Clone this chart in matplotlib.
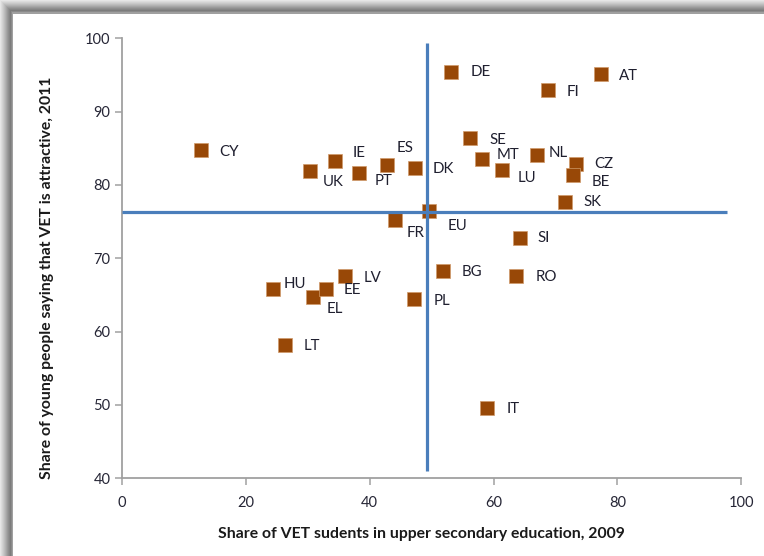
import matplotlib.pyplot as plt
from matplotlib.patches import Rectangle

# Data
countries = ["CY", "UK", "IE", "PT", "ES", "DK", "EU", "FR", "DE", "SE", "MT", "LU", "NL",
             "CZ", "BE", "FI", "AT", "SK", "SI", "BG", "RO", "PL", "IT", "HU", "EL", "EE",
             "LV", "LT"]
vet_share = [12.7, 30.4, 34.3, 38.3, 42.8, 47.3, 49.6, 44.1, 53.2, 56.2, 58.1, 61.3, 67.0,
             73.3, 72.8, 68.8, 77.3, 71.6, 64.2, 51.8, 63.7, 47.1, 59.0, 24.3, 30.9, 32.9,
             36.0, 26.3]
attractive = [84.8, 81.9, 83.3, 81.6, 82.7, 82.3, 76.5, 75.2, 95.4, 86.4, 83.5, 82.1, 84.1,
              82.8, 81.4, 92.9, 95.1, 77.7, 72.7, 68.3, 67.6, 64.4, 49.6, 65.8, 64.7, 65.8,
              67.6, 58.2]

# EU average cross lines
eu_x = 49.3
eu_y = 76.3
vline_span = [41.0, 99.3]
hline_span = [0.0, 97.7]

# label offsets in pixels (dx right, dy down)
offsets = {
    "CY": (18, 2), "UK": (12, 11), "IE": (18, -8), "PT": (15, 8), "ES": (10, -17),
    "DK": (18, 1), "EU": (18, 15), "FR": (11, 13), "DE": (19, 0), "SE": (19, 2),
    "MT": (15, -4), "LU": (16, 8), "NL": (12, -2), "CZ": (18, 0), "BE": (19, 7),
    "FI": (19, 2), "AT": (18, 2), "SK": (18, 0), "SI": (18, 0), "BG": (19, 1),
    "RO": (19, 1), "PL": (20, 2), "IT": (19, 1), "HU": (11, -5), "EL": (13, 12),
    "EE": (18, 1), "LV": (19, 2), "LT": (19, 1),
}

plt.rcParams['font.family'] = ['Lato', 'DejaVu Sans']

fig = plt.figure(figsize=(7.64, 5.56), dpi=100)
W, H = 764, 556

# gray shadow frame on the top and left edges
shades = ['#e6e6e6', '#dcdcdc', '#d2d2d2', '#c8c8c8', '#bdbdbd', '#b2b2b2', '#a6a6a6',
          '#9a9a9a', '#8f8f8f', '#858585', '#7c7c7c', '#8a8a8a', '#a0a0a0']
for i, c in enumerate(shades):
    fig.patches.append(Rectangle((i / W, 0), 1, 1 - i / H, transform=fig.transFigure,
                                 facecolor=c, edgecolor='none', zorder=-10))
fig.patches.append(Rectangle((13 / W, 0), 1, 1 - 14 / H, transform=fig.transFigure,
                             facecolor='white', edgecolor='none', zorder=-9))

ax = fig.add_axes([0.160, 0.140, 0.810, 0.791])
ax.set_facecolor('none')

ax.plot([eu_x, eu_x], vline_span, color='#4A7EBB', lw=2.3, zorder=3, solid_capstyle='butt')
ax.plot(hline_span, [eu_y, eu_y], color='#4A7EBB', lw=2.3, zorder=3, solid_capstyle='butt')

ax.scatter(vet_share, attractive, marker='s', s=92, facecolor='#984807',
           edgecolor='#d09a6a', linewidth=0.5, zorder=2)

for name, x, y in zip(countries, vet_share, attractive):
    dx, dy = offsets[name]
    ax.annotate(name, (x, y), xytext=(dx * 0.72, -dy * 0.72), textcoords='offset points',
                ha='left', va='center', fontsize=10.8, color='#1f1f2f')

ax.set_xlim(0, 100)
ax.set_ylim(40, 100)
ax.set_xticks(range(0, 101, 20))
ax.set_yticks(range(40, 101, 10))
for side in ['top', 'right']:
    ax.spines[side].set_visible(False)
for side in ['left', 'bottom']:
    ax.spines[side].set_color('#a0a0a0')
    ax.spines[side].set_linewidth(1.3)
ax.tick_params(direction='out', length=5, width=1.1, color='#a0a0a0',
               labelsize=10.5, labelcolor='#262636')
ax.tick_params(axis='x', pad=8)

ax.set_xlabel('Share of VET sudents in upper secondary education, 2009', fontsize=11.3,
              fontweight='bold', color='#1a1a1a')
ax.set_ylabel('Share of young people saying that VET is attractive, 2011', fontsize=11.3,
              fontweight='bold', color='#1a1a1a')
ax.xaxis.set_label_coords(0.483, -0.111)
ax.yaxis.set_label_coords(-0.110, 0.455)

fig.savefig('out.png', dpi=100)
